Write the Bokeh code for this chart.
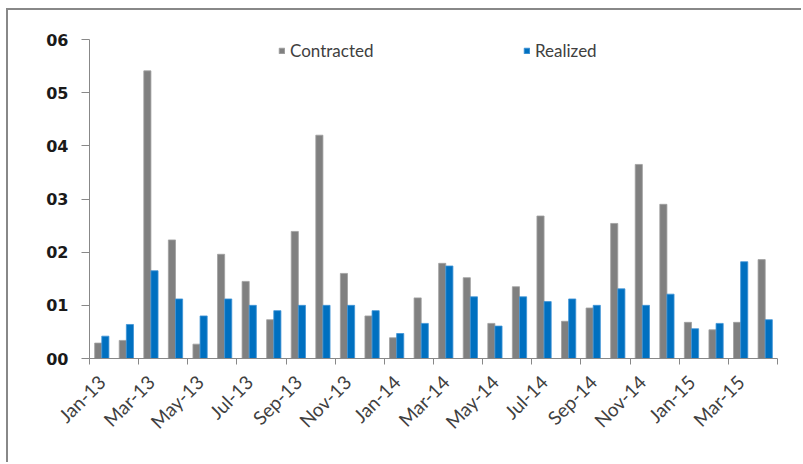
import math
from bokeh.plotting import figure
from bokeh.models import FixedTicker, Legend, LegendItem, ColumnDataSource, Range1d
from bokeh.embed import file_html
from bokeh.resources import INLINE

months = ["Jan-13", "Feb-13", "Mar-13", "Apr-13", "May-13", "Jun-13", "Jul-13",
          "Aug-13", "Sep-13", "Oct-13", "Nov-13", "Dec-13", "Jan-14", "Feb-14",
          "Mar-14", "Apr-14", "May-14", "Jun-14", "Jul-14", "Aug-14", "Sep-14",
          "Oct-14", "Nov-14", "Dec-14", "Jan-15", "Feb-15", "Mar-15", "Apr-15"]
contracted = [0.29, 0.34, 5.41, 2.23, 0.27, 1.96, 1.45, 0.73, 2.39, 4.20, 1.60, 0.80,
              0.39, 1.14, 1.79, 1.52, 0.66, 1.35, 2.68, 0.70, 0.95, 2.54, 3.65, 2.90,
              0.68, 0.54, 0.68, 1.86]
realized = [0.42, 0.64, 1.65, 1.12, 0.80, 1.12, 1.00, 0.90, 1.00, 1.00, 1.00, 0.90,
            0.47, 0.66, 1.74, 1.16, 0.61, 1.16, 1.07, 1.12, 1.00, 1.31, 1.00, 1.21,
            0.56, 0.66, 1.82, 0.73]
y_ticks = [0, 1, 2, 3, 4, 5, 6]
y_tick_labels = ["00", "01", "02", "03", "04", "05", "06"]

n = len(months)
idx = list(range(n))
bar_w = 0.29
src = ColumnDataSource(dict(
    xc=[i + 0.5 - bar_w / 2 for i in idx],
    xr=[i + 0.5 + bar_w / 2 for i in idx],
    contracted=contracted,
    realized=realized,
))

W, H = 795, 454
p = figure(width=W, height=H, output_backend="svg", toolbar_location=None,
           x_range=Range1d(0, n), y_range=Range1d(0, 6),
           min_border_left=81, min_border_right=26, min_border_top=29, min_border_bottom=106)
p.styles = {"margin-left": "6px", "margin-top": "8px",
            "border-left": "2px solid #888888", "border-top": "2px solid #888888"}
p.outline_line_color = None
p.xgrid.grid_line_color = None
p.ygrid.grid_line_color = None
p.background_fill_color = "white"
p.border_fill_color = "white"

rc = p.vbar(x="xc", top="contracted", width=bar_w, source=src,
            fill_color="#808080", line_color="#a0a0a0", line_width=0.8)
rr = p.vbar(x="xr", top="realized", width=bar_w, source=src,
            fill_color="#0070C0", line_color="#3f93d6", line_width=0.8)

# y axis
ya = p.yaxis[0]
ya.ticker = FixedTicker(ticks=y_ticks, minor_ticks=[])
ya.major_label_overrides = {t: l for t, l in zip(y_ticks, y_tick_labels)}
ya.axis_line_color = "#888888"
ya.major_tick_line_color = "#888888"
ya.major_tick_out = 8
ya.major_tick_in = 0
ya.major_label_standoff = 13
ya.major_label_text_font = "DejaVu Sans"
ya.major_label_text_font_style = "bold"
ya.major_label_text_font_size = "16px"
ya.major_label_text_color = "#1a1a1a"

# x axis: labels at every other category center, tick marks at boundaries
xa = p.xaxis[0]
label_pos = [i + 0.5 for i in idx[::2]]
xa.ticker = FixedTicker(ticks=label_pos, minor_ticks=list(range(0, n + 1, 2)))
xa.major_label_overrides = {i + 0.5: months[i] for i in idx[::2]}
xa.axis_line_color = "#888888"
xa.major_tick_line_color = None
xa.major_tick_out = 0
xa.major_tick_in = 0
xa.minor_tick_line_color = "#888888"
xa.minor_tick_out = 6
xa.minor_tick_in = 0
xa.major_label_orientation = math.pi / 4
xa.major_label_standoff = 14
xa.major_label_text_font = "Lato"
xa.major_label_text_font_size = "19px"
xa.major_label_text_color = "#404040"

for name, rend, xoff in [("Contracted", rc, 189), ("Realized", rr, 434)]:
    lg = Legend(items=[LegendItem(label=name, renderers=[rend])],
                location=(xoff, 297), orientation="horizontal",
                padding=0, margin=0, border_line_color=None,
                background_fill_alpha=0, glyph_width=7, glyph_height=7,
                label_standoff=5, label_text_font="Lato",
                label_text_font_size="17px", label_text_color="#404040")
    p.add_layout(lg)

open("out.html", "w").write(file_html(p, INLINE))
